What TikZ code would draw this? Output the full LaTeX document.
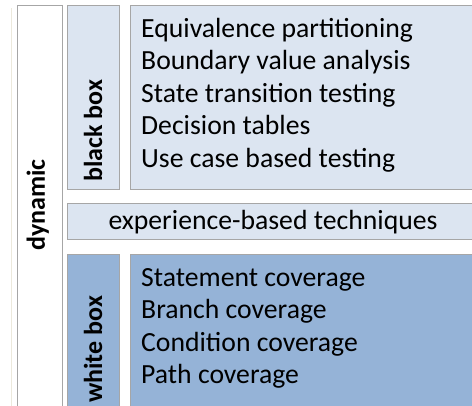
\documentclass[tikz,border=0pt]{standalone}
\usepackage{fontspec}
\setmainfont{Carlito}
\definecolor{lightbl}{HTML}{DCE5F1}
\definecolor{darkbl}{HTML}{95B3D7}
\definecolor{edge}{HTML}{A6A6A6}
\definecolor{beige}{HTML}{ECE9DC}
\tikzset{
  frame/.style={draw=edge, line width=1pt},
  item/.style={anchor=base west, inner sep=0pt, font=\fontsize{27.7}{32}\selectfont},
  vlabel/.style={rotate=90, inner sep=0pt, font=\fontsize{26}{30}\selectfont\bfseries},
}
\begin{document}
\begin{tikzpicture}[x=1pt,y=-1pt]
\useasboundingbox (0,0) rectangle (472,405);
\clip (0,0) rectangle (472,405);
\fill[white] (0,0) rectangle (472,405);
% beige line
\draw[beige, line width=1.5pt] (11.5,8) -- (11.5,410);
% dynamic box
\draw[frame, fill=white] (17,5) rectangle (62,420);
\node[vlabel, anchor=base] (dyn) at (45,205) {dynamic};
% black box
\draw[frame, fill=lightbl] (67,5) rectangle (119,189);
\node[vlabel, anchor=base west] (bb) at (102,182) {black box};
\draw[frame, fill=lightbl] (130,5) rectangle (480,189);
\node[item] (b1) at (141,37) {Equivalence partitioning};
\node[item] (b2) at (141,69.5) {Boundary value analysis};
\node[item] (b3) at (141,102) {State transition testing};
\node[item] (b4) at (141,134.5) {Decision tables};
\node[item] (b5) at (141,167) {Use case based testing};
% experience
\draw[frame, fill=lightbl] (67,203) rectangle (480,239);
\node[item, anchor=base] (exp) at (273,229) {experience-based techniques};
% white box
\draw[frame, fill=darkbl] (67,254) rectangle (119,420);
\node[vlabel, anchor=base west] (wb) at (102,403) {white box};
\draw[frame, fill=darkbl] (130,254) rectangle (480,420);
\node[item] (w1) at (141,286) {Statement coverage};
\node[item] (w2) at (141,318.5) {Branch coverage};
\node[item] (w3) at (141,351) {Condition coverage};
\node[item] (w4) at (141,383.5) {Path coverage};
\end{tikzpicture}
\end{document}
